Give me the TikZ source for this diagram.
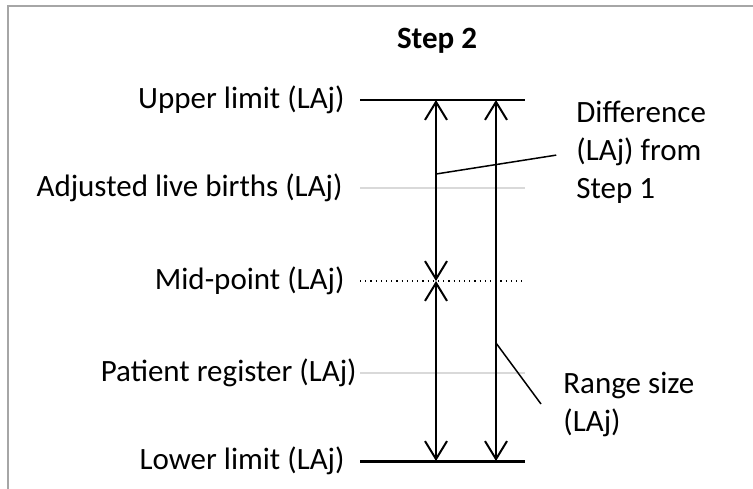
\documentclass[tikz,border=0pt]{standalone}
\usepackage{fontspec}
\setmainfont{Carlito}
\usetikzlibrary{arrows.meta}

\begin{document}
\begin{tikzpicture}[x=0.5pt, y=-0.5pt,
        lbl/.style={font=\fontsize{15.5}{19}\selectfont, inner sep=0pt},
        limit/.style={line width=1pt, color=black},
        level/.style={line width=1pt, color=black!15},
        spanarrow/.style={line width=1pt, {Straight Barb[length=9pt,width=11pt]}-{Straight Barb[length=9pt,width=11pt]}},
        leader/.style={line width=0.75pt}]
        \useasboundingbox (0,0) rectangle (753,488);

        % Frame
        \draw[line width=0.8pt, color=black!35] (8,6) rectangle (790,520);

        % Title
        \node[lbl, font=\fontsize{15.5}{19}\selectfont\bfseries, anchor=base] (title) at (437,48) {Step 2};

        % Line ends for each level
        \foreach \y/\name in {100/up, 188/adj, 281/mid, 373/pat, 461/low} {
            \coordinate (\name L) at (360,\y);
            \coordinate (\name R) at (525,\y);
        }

        % Labels
        \node[lbl, anchor=east] (upper) at (345,100) {Upper limit (LAj)};
        \node[lbl, anchor=east] (adjusted) at (343,188) {Adjusted live births (LAj)};
        \node[lbl, anchor=east] (midpoint) at (345,281) {Mid-point (LAj)};
        \node[lbl, anchor=east] (patient) at (357,373) {Patient register (LAj)};
        \node[lbl, anchor=east] (lower) at (345,461) {Lower limit (LAj)};

        % Draw levels
        \draw[limit] (upL) -- (upR);
        \draw[level] (adjL) -- (adjR);
        \draw[dotted, line width=0.6pt] (midL) -- (midR);
        \draw[level] (patL) -- (patR);
        \draw[limit, line width=1.5pt] (lowL) -- (lowR);

        % Draw ranges
        \coordinate (a1) at (436,100);
        \coordinate (a2) at (436,281);
        \coordinate (a3) at (436,461);
        \coordinate (b1) at (496,100);
        \coordinate (b2) at (496,461);
        \draw[spanarrow] (a2) -- (a1);
        \draw[spanarrow] (a2) -- (a3);
        \draw[spanarrow] (b1) -- (b2);

        % Callouts
        \node[lbl, anchor=west, align=left] (diff) at (576,152) {Difference\\(LAj) from\\Step 1};
        \node[lbl, anchor=west, align=left] (rangesize) at (563,404) {Range size\\(LAj)};
        \coordinate (diffpt) at (436,174);
        \coordinate (rangept) at (496,343);
        \coordinate (rangeend) at (541,404);
        \draw[leader, shorten >=10pt] (diffpt) -- (diff.west);
        \draw[leader] (rangept) -- (rangeend);
    \end{tikzpicture}
\end{document}
